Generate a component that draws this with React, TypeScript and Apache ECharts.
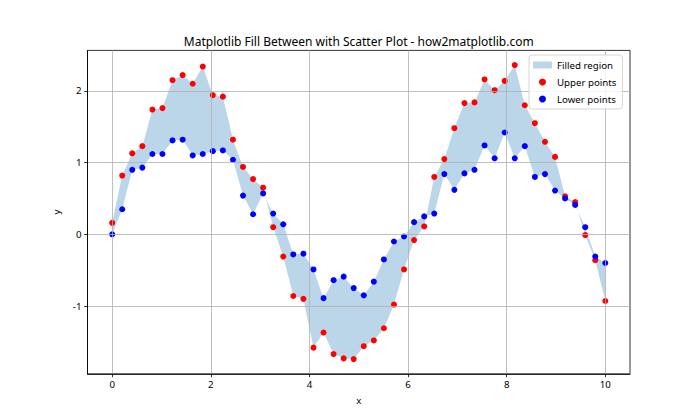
import React, { useEffect, useRef } from "react";
import * as echarts from "echarts";

const xValues = [
  0, 0.204, 0.408, 0.612, 0.816, 1.02, 1.224, 1.429, 1.633, 1.837,
  2.041, 2.245, 2.449, 2.653, 2.857, 3.061, 3.265, 3.469, 3.673, 3.878,
  4.082, 4.286, 4.49, 4.694, 4.898, 5.102, 5.306, 5.51, 5.714, 5.918,
  6.122, 6.327, 6.531, 6.735, 6.939, 7.143, 7.347, 7.551, 7.755, 7.959,
  8.163, 8.367, 8.571, 8.776, 8.98, 9.184, 9.388, 9.592, 9.796, 10,
];

const upperValues = [
  0.16, 0.82, 1.13, 1.23, 1.74, 1.76, 2.15, 2.22, 2.1, 2.34,
  1.94, 1.92, 1.32, 0.94, 0.77, 0.65, 0.1, -0.31, -0.86, -0.9,
  -1.58, -1.37, -1.67, -1.73, -1.74, -1.56, -1.48, -1.31, -0.98, -0.49,
  -0.08, 0.11, 0.8, 1.05, 1.48, 1.83, 1.84, 2.16, 2.01, 2.14,
  2.36, 1.8, 1.55, 1.29, 1.08, 0.53, 0.45, -0.01, -0.36, -0.93,
];

const lowerValues = [
  0.0, 0.35, 0.9, 0.93, 1.12, 1.12, 1.31, 1.32, 1.1, 1.12,
  1.16, 1.17, 1.04, 0.54, 0.28, 0.57, 0.29, 0.14, -0.28, -0.27,
  -0.49, -0.89, -0.64, -0.59, -0.75, -0.85, -0.66, -0.35, -0.1, -0.03,
  0.17, 0.25, 0.29, 0.84, 0.62, 0.85, 0.9, 1.24, 1.06, 1.42,
  1.06, 1.23, 0.8, 0.84, 0.61, 0.5, 0.41, 0.1, -0.31, -0.4,
];

const xTicks = [0, 2, 4, 6, 8, 10];
const yTicks = [-1, 0, 1, 2];

const titleText = "Matplotlib Fill Between with Scatter Plot - how2matplotlib.com";
const fillName = "Filled region";
const upperName = "Upper points";
const lowerName = "Lower points";
const xName = "x";
const yName = "y";

export default function App() {
  const ref = useRef<HTMLDivElement>(null);

  useEffect(() => {
    if (!ref.current) return;
    const chart = echarts.init(ref.current, null, { renderer: "svg" });
    const font = "Noto Sans";
    const fillColor = "rgba(31,119,180,0.3)";

    const all = [...upperValues, ...lowerValues];
    const yLo = Math.min(...all);
    const yHi = Math.max(...all);
    const yPad = (yHi - yLo) * 0.05;
    const xLo = Math.min(...xValues);
    const xHi = Math.max(...xValues);
    const xPad = (xHi - xLo) * 0.05;

    const gridLeft = 87.5;
    const gridRight = 70;
    const gridTop = 50.4;
    const gridBottom = 46.2;

    const tickLine = { color: "#000", width: 0.8 };
    const labelStyle = { fontSize: 9.7, color: "#000", fontFamily: font };

    chart.setOption({
      animation: false,
      textStyle: { fontFamily: font },
      graphic: [
        {
          type: "text",
          x: (gridLeft + (700 - gridRight)) / 2,
          y: 41,
          style: {
            text: titleText,
            fontSize: 12,
            fontFamily: font,
            fill: "#000",
            textAlign: "center",
            textVerticalAlign: "middle",
          },
        },
      ],
      grid: {
        left: gridLeft,
        right: gridRight,
        top: gridTop,
        bottom: gridBottom,
        show: true,
        borderColor: "#000",
        borderWidth: 0.8,
        backgroundColor: "transparent",
      },
      legend: {
        orient: "vertical",
        left: 529,
        top: 55,
        itemWidth: 19,
        itemHeight: 7,
        itemGap: 5,
        itemTextGap: 8,
        padding: [4, 6, 4, 4],
        borderColor: "#cccccc",
        borderWidth: 0.8,
        borderRadius: 3,
        backgroundColor: "rgba(255,255,255,0.8)",
        textStyle: { fontSize: 9.7, color: "#000", lineHeight: 12, fontFamily: font },
        data: [
          { name: fillName, icon: "rect" },
          { name: upperName, icon: "circle" },
          { name: lowerName, icon: "circle" },
        ],
      },
      xAxis: {
        type: "value",
        min: xLo - xPad,
        max: xHi + xPad,
        z: 3,
        axisLine: { show: true, onZero: false, lineStyle: tickLine },
        axisTick: { show: true, customValues: xTicks, length: 3.4, lineStyle: tickLine },
        axisLabel: { customValues: xTicks, margin: 6, ...labelStyle },
        splitLine: { show: true, lineStyle: { color: "#b0b0b0", width: 0.8 } },
        name: xName,
        nameLocation: "middle",
        nameGap: 22,
        nameTextStyle: { ...labelStyle },
      },
      yAxis: {
        type: "value",
        min: yLo - yPad,
        max: yHi + yPad,
        z: 3,
        axisLine: { show: true, onZero: false, lineStyle: tickLine },
        axisTick: { show: true, customValues: yTicks, length: 3.4, lineStyle: tickLine },
        axisLabel: { customValues: yTicks, margin: 6, ...labelStyle },
        splitLine: { show: true, lineStyle: { color: "#b0b0b0", width: 0.8 } },
        name: yName,
        nameLocation: "middle",
        nameGap: 20,
        nameTextStyle: { ...labelStyle },
      },
      series: [
        {
          type: "custom",
          name: fillName,
          coordinateSystem: "cartesian2d",
          silent: true,
          z: 1,
          itemStyle: { color: fillColor },
          data: [[xValues[0], upperValues[0]]],
          renderItem: (_params: any, api: any) => {
            const pts: number[][] = [];
            for (let i = 0; i < xValues.length; i++) {
              pts.push(api.coord([xValues[i], upperValues[i]]));
            }
            for (let i = xValues.length - 1; i >= 0; i--) {
              pts.push(api.coord([xValues[i], lowerValues[i]]));
            }
            return {
              type: "polygon",
              shape: { points: pts },
              style: { fill: fillColor, stroke: "none" },
            };
          },
        },
        {
          type: "scatter",
          name: upperName,
          z: 2,
          symbol: "circle",
          symbolSize: 6,
          itemStyle: { color: "#ff0000", opacity: 1 },
          data: xValues.map((x, i) => [x, upperValues[i]]),
        },
        {
          type: "scatter",
          name: lowerName,
          z: 2,
          symbol: "circle",
          symbolSize: 6,
          itemStyle: { color: "#0000ff", opacity: 1 },
          data: xValues.map((x, i) => [x, lowerValues[i]]),
        },
      ],
    });

    return () => {
      chart.dispose();
    };
  }, []);

  return (
    <div
      ref={ref}
      style={{ position: "absolute", left: 0, top: 0, width: 700, height: 420 }}
    />
  );
}
